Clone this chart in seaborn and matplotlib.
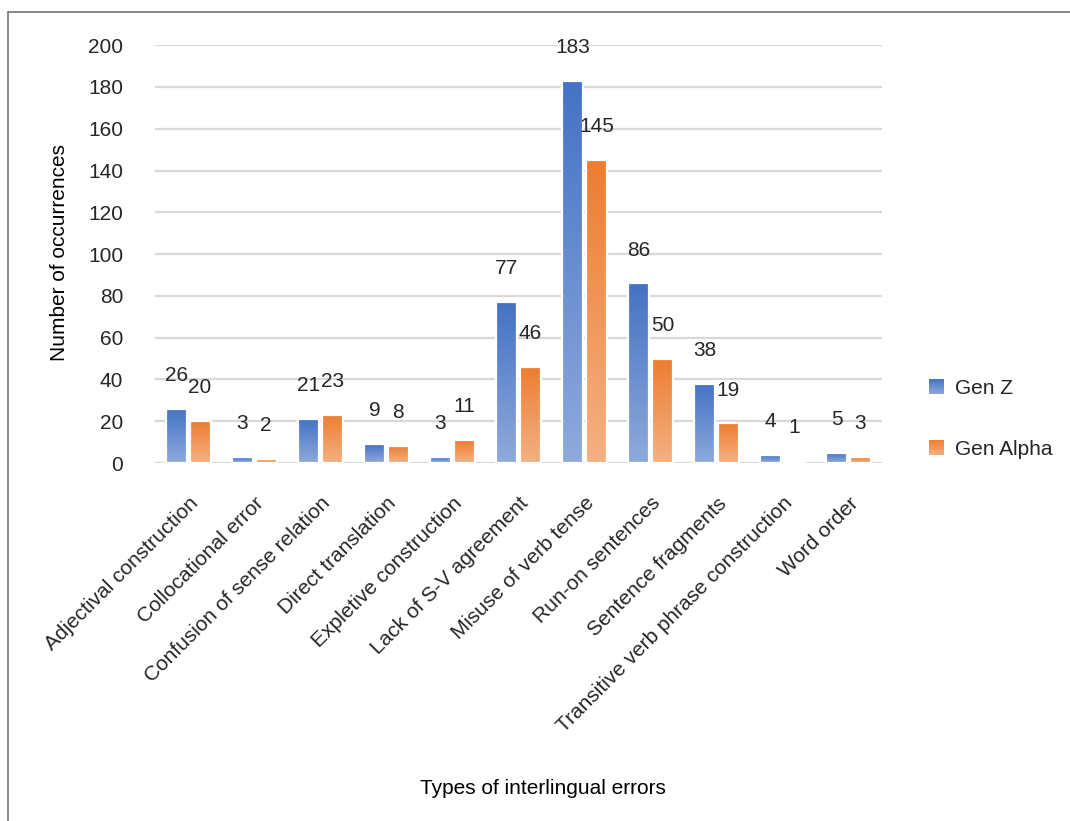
import numpy as np
import pandas as pd
import matplotlib
matplotlib.use("Agg")
import matplotlib.pyplot as plt
import seaborn as sns
from matplotlib.colors import LinearSegmentedColormap
from matplotlib.patches import Rectangle
from matplotlib.legend_handler import HandlerBase
from matplotlib.lines import Line2D

categories = [
    "Adjectival construction",
    "Collocational error",
    "Confusion of sense relation",
    "Direct translation",
    "Expletive construction",
    "Lack of S-V agreement",
    "Misuse of verb tense",
    "Run-on sentences",
    "Sentence fragments",
    "Transitive verb phrase construction",
    "Word order",
]
gen_z = [26, 3, 21, 9, 3, 77, 183, 86, 38, 4, 5]
gen_alpha = [20, 2, 23, 8, 11, 46, 145, 50, 19, 1, 3]
series = ["Gen Z", "Gen Alpha"]
y_ticks = [0, 20, 40, 60, 80, 100, 120, 140, 160, 180, 200]

# top / bottom colours of each series' vertical gradient
grad = {
    "Gen Z": ("#4472C4", "#8FAADC"),
    "Gen Alpha": ("#ED7D31", "#F4B183"),
}

df = pd.DataFrame({
    "category": categories * 2,
    "count": gen_z + gen_alpha,
    "series": ["Gen Z"] * len(categories) + ["Gen Alpha"] * len(categories),
})

sns.set_theme(style="white")
plt.rcParams["font.family"] = ["Liberation Sans", "DejaVu Sans"]

FS = 15
TXT = "#262626"

fig = plt.figure(figsize=(10.70, 8.21), dpi=100)
ax = fig.add_axes([0.145, 0.436, 0.679, 0.509])

sns.barplot(
    data=df, x="category", y="count", hue="series", hue_order=series,
    order=categories, palette=[grad[s][0] for s in series],
    width=0.72, gap=0.12, edgecolor="white", linewidth=1.6,
    legend=False, ax=ax, zorder=3,
)

xlim = (-0.5, len(categories) - 0.5)

# gradient fills clipped to each bar
cmaps = {s: LinearSegmentedColormap.from_list(s, [grad[s][1], grad[s][0]]) for s in series}
grad_img = np.linspace(0, 1, 256).reshape(-1, 1)
for container, s in zip(ax.containers, series):
    for bar in container:
        x0, w = bar.get_x(), bar.get_width()
        h = bar.get_height()
        if h <= 0:
            continue
        bar.set_facecolor("none")
        im = ax.imshow(grad_img, cmap=cmaps[s], origin="lower", aspect="auto",
                       extent=(x0, x0 + w, 0, h), zorder=2.5, interpolation="bilinear")
        im.set_clip_path(bar)
    # value labels above the bars
    for bar in container:
        ax.annotate(f"{int(round(bar.get_height()))}",
                    (bar.get_x() + bar.get_width() / 2, bar.get_height()),
                    xytext=(0, 24), textcoords="offset points",
                    ha="center", va="center", fontsize=FS, color=TXT,
                    zorder=5)

ax.set_xlim(*xlim)
ax.set_ylim(0, 200)
ax.set_yticks(y_ticks)
ax.set_yticklabels([str(v) for v in y_ticks], fontsize=FS, color=TXT)
ax.yaxis.grid(True, color="#d9d9d9", linewidth=1.6, zorder=0)
ax.set_axisbelow(True)
ax.tick_params(axis="y", length=0, pad=23)
ax.tick_params(axis="x", length=0, pad=22)
ax.set_xticks(range(len(categories)))
ax.set_xticklabels(categories, rotation=45, ha="right", rotation_mode="anchor",
                   fontsize=FS, color=TXT)
for sp in ax.spines.values():
    sp.set_visible(False)

ax.set_xlabel("")
ax.set_ylabel("")
fig.text(0.507, 0.040, "Types of interlingual errors", ha="center", va="center",
         fontsize=FS, color="black")
fig.text(0.056, 0.693, "Number of occurrences", ha="center", va="center",
         rotation=90, fontsize=FS, color="black")


class GradientHandler(HandlerBase):
    def __init__(self, top, bottom, n=12):
        super().__init__()
        self.top, self.bottom, self.n = top, bottom, n

    def create_artists(self, legend, orig_handle, xdescent, ydescent,
                       width, height, fontsize, trans):
        cmap = LinearSegmentedColormap.from_list("g", [self.bottom, self.top])
        size = min(width, height) * 0.95
        x0 = -xdescent + (width - size) / 2
        y0 = -ydescent + (height - size) / 2
        arts = []
        for i in range(self.n):
            r = Rectangle((x0, y0 + size * i / self.n), size, size / self.n + 0.3,
                          facecolor=cmap((i + 0.5) / self.n), edgecolor="none",
                          transform=trans)
            arts.append(r)
        return arts


handles = [Rectangle((0, 0), 1, 1) for _ in series]
leg = fig.legend(
    handles, series, loc="center left", bbox_to_anchor=(0.850, 0.490),
    frameon=False, fontsize=FS, labelspacing=2.0, handlelength=0.8,
    handleheight=0.8, handletextpad=0.5,
    handler_map={h: GradientHandler(*grad[s]) for h, s in zip(handles, series)},
)
for t in leg.get_texts():
    t.set_color(TXT)

# frame edges around the chart area
fig.add_artist(Line2D([0.0075, 0.0075], [0.0, 0.985], color="#767676",
                      linewidth=1.2, transform=fig.transFigure))
fig.add_artist(Line2D([0.0075, 1.0], [0.985, 0.985], color="#767676",
                      linewidth=1.2, transform=fig.transFigure))

fig.savefig("out.png", dpi=100, facecolor="white")
